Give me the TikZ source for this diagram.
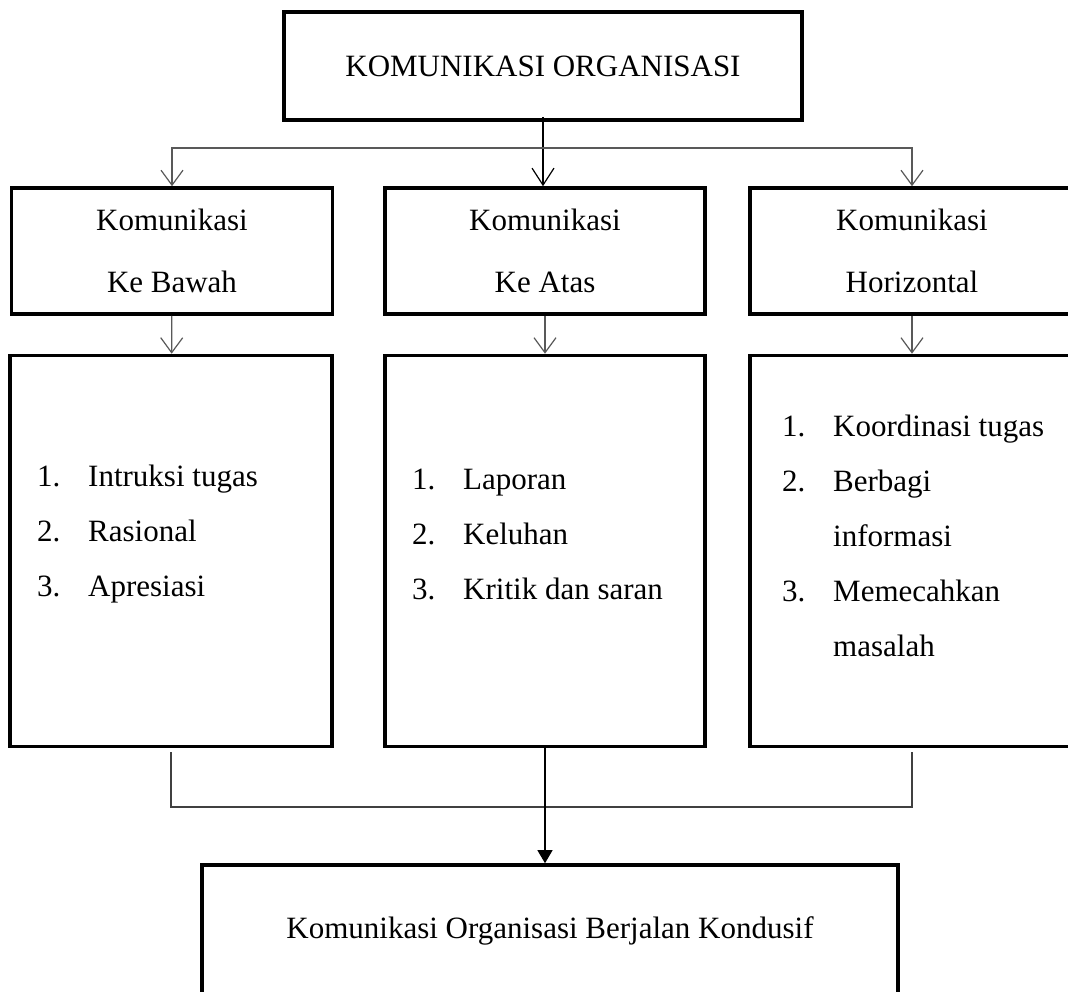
\documentclass[tikz,border=0pt]{standalone}
\usepackage{fontspec}
\setmainfont{Liberation Serif}
\usepackage{tikz}
\usetikzlibrary{arrows.meta}
\tikzstyle{kotak}=[draw,line width=3.6pt,rectangle,inner sep=0pt,align=center,font=\fontsize{31}{62}\selectfont]
\tikzstyle{isi}=[inner sep=0pt,align=left,anchor=west,font=\fontsize{31}{55}\selectfont]
\tikzstyle{turun}=[black!65,line width=1.2pt,-{Straight Barb[length=15pt,width=22pt]}]
\tikzstyle{garis}=[black!75,line width=1.2pt]
\newcommand{\no}[1]{\makebox[51pt][l]{#1}}
\newcommand{\kotaknode}{\node[kotak]}
\newcommand{\isinode}{\node[isi]}

\begin{document}
\begin{tikzpicture}[x=1pt,y=-1pt]
        \useasboundingbox (0,0) rectangle (1068,992);
        \clip (0,0) rectangle (1068,992);
        \kotaknode[minimum width=518,minimum height=108] (ko) at (543,66) {KOMUNIKASI ORGANISASI}; %
        \kotaknode[minimum width=321,minimum height=126] (kb) at (172,251) {Komunikasi\\Ke Bawah}; %
        \kotaknode[minimum width=320,minimum height=126] (ka) at (545,251) {Komunikasi\\Ke Atas}; %
        \kotaknode[minimum width=324,minimum height=126] (kh) at (912,251) {Komunikasi\\Horizontal}; %
        \kotaknode[minimum width=322,minimum height=391] (lb) at (171,551) {}; %
        \kotaknode[minimum width=320,minimum height=391] (la) at (545,551) {}; %
        \kotaknode[minimum width=324,minimum height=391] (lh) at (912,551) {}; %
        \kotaknode[minimum width=696,minimum height=132] (akhir) at (550,931) {Komunikasi Organisasi Berjalan Kondusif};
        \isinode (ib) at (37,534) {\no{1.}Intruksi tugas\\\no{2.}Rasional\\\no{3.}Apresiasi};
        \isinode (ia) at (412,534) {\no{1.}Laporan\\\no{2.}Keluhan\\\no{3.}Kritik dan saran};
        \isinode (ih) at (782,536) {\no{1.}Koordinasi tugas\\\no{2.}Berbagi\\\no{}informasi\\\no{3.}Memecahkan\\\no{}masalah};
        \coordinate (atas) at (543,148);
        \coordinate (bawah) at (545,807);
        \draw[line width=1.2pt,-{Straight Barb[length=17pt,width=22pt]}] ([yshift=5pt]ko.south) -- (ko.south |- ka.north);
        \draw[turun,{Straight Barb[length=15pt,width=22pt]}-{Straight Barb[length=15pt,width=22pt]}] (kb.north) |- (atas) -| (kh.north);
        \draw[turun] (kb) -- (lb);
        \draw[turun] (ka) -- (la);
        \draw[turun] (kh) -- (lh);
        \draw[garis] ([yshift=-4pt]lb.south) |- (bawah) -| ([yshift=-4pt]lh.south);
        \draw[line width=1.2pt,-{Triangle[length=13pt,width=15pt]}] (la.south) -- (la.south |- akhir.north);
      \end{tikzpicture}
\end{document}
